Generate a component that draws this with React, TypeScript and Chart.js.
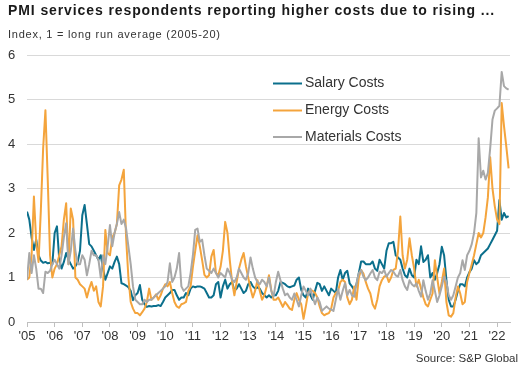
import React, { useEffect, useRef } from "react";
import { Chart, registerables } from "chart.js";

Chart.register(...registerables);

const FONT = '"Liberation Sans", Arial, Helvetica, sans-serif';

const titleText = "PMI services respondents reporting higher costs due to rising ...";
const subtitleText = "Index, 1 = long run average (2005-20)";
const sourceText = "Source: S&P Global";

const startYear = 2005;
const yearTickLabels = ["'05", "'06", "'07", "'08", "'09", "'10", "'11", "'12", "'13", "'14", "'15", "'16", "'17", "'18", "'19", "'20", "'21", "'22"];
const yAxisTicks = [0, 1, 2, 3, 4, 5, 6];

const seriesNames = ["Salary Costs", "Energy Costs", "Materials Costs"];
const seriesColors = ["#0B6F8C", "#F4A43C", "#A8A8A8"];

// Monthly values, Jan 2005 .. Jun 2022 (one row per year)
const salaryCosts = [
  2.48, 2.3, 1.9, 1.62, 1.85, 1.5, 1.38, 1.33, 1.35, 1.32, 1.33, 1.3,
  2.0, 2.15, 1.4, 1.2, 1.35, 1.55, 1.4, 1.3, 1.2, 1.25, 1.35, 1.6,
  2.4, 2.63, 2.2, 1.75, 1.7, 1.6, 1.5, 1.4, 1.5, 1.2, 0.95, 1.1,
  1.25, 1.2, 1.35, 1.47, 1.3, 0.87, 0.85, 0.82, 0.78, 0.7, 0.49, 0.6,
  0.65, 0.83, 0.5, 0.4, 0.34, 0.36, 0.35, 0.36, 0.36, 0.38, 0.36, 0.45,
  0.55, 0.6, 0.65, 0.72, 0.72, 0.6, 0.5, 0.55, 0.55, 0.65, 0.6, 0.75,
  0.8, 0.78, 0.8, 0.8, 0.78, 0.75, 0.65, 0.55, 0.55, 0.6, 0.85, 0.9,
  0.55, 0.8, 0.95, 0.75, 0.85, 0.9, 0.7, 0.75, 0.85, 0.75, 0.65, 0.7,
  0.85, 0.9, 0.8, 0.75, 0.78, 0.75, 0.65, 0.6, 0.55, 0.6, 0.55, 0.6,
  0.6, 0.7, 0.9, 0.88, 0.85, 0.8, 0.78, 0.8, 0.82, 0.95, 1.0, 0.72,
  0.6, 0.55, 0.75, 0.6, 0.5, 0.7, 0.88, 0.85, 0.7, 0.8, 0.7, 0.6,
  0.75, 0.7, 0.65, 1.0, 1.17, 0.95, 1.1, 1.15, 0.87, 0.8, 0.72, 0.85,
  1.1, 1.36, 1.36, 1.3, 1.3, 1.3, 1.36, 1.2, 1.15, 1.4, 1.3, 1.2,
  1.6, 1.77, 1.77, 1.8, 1.5, 1.45, 1.4, 1.2, 1.05, 1.0, 1.2, 1.05,
  1.0, 1.4, 1.3, 1.7, 1.35, 1.4, 1.5, 1.0, 1.1, 0.95, 1.1, 1.3,
  1.69, 1.5, 0.95, 0.5, 0.35, 0.35, 0.5, 0.7, 0.85, 0.85, 0.8, 1.0,
  1.12, 1.2, 1.39, 1.3, 1.35, 1.5, 1.55, 1.6, 1.65, 1.75, 1.85, 1.95,
  2.05, 2.74, 2.3, 2.45, 2.35, 2.38,
];

const energyCosts = [
  0.95, 1.0, 1.5, 2.82, 1.8, 1.35, 2.5, 3.9, 4.76, 3.2, 1.5, 1.0,
  1.2, 1.3, 1.5, 1.7, 2.3, 2.67, 1.3, 2.55, 2.3, 1.0, 0.95, 0.85,
  0.8, 0.75, 0.55, 0.75, 0.9, 0.7, 0.8, 0.45, 0.35, 0.8, 2.07, 1.55,
  1.5, 1.9, 2.0, 2.2, 3.07, 3.2, 3.42, 1.9, 1.0, 0.45, 0.3, 0.2,
  0.2, 0.15, 0.22, 0.3, 0.45, 0.75, 0.5, 0.55, 0.62, 0.5, 0.6, 0.75,
  0.85, 0.8, 0.9, 0.65, 0.45, 0.35, 0.32, 0.4, 0.42, 0.45, 0.7, 0.8,
  1.24, 1.6, 1.95, 1.7, 1.39, 1.06, 1.0, 1.05, 1.47, 1.62, 1.1, 1.05,
  1.24, 1.6, 2.25, 2.0, 1.39, 0.9, 0.6, 0.9, 1.2, 1.4, 1.55, 1.25,
  1.0, 0.75, 0.55, 0.7, 0.94, 0.7, 0.5, 0.6, 0.8, 1.05, 0.72, 0.5,
  0.5, 0.55, 0.45, 0.34, 0.45, 0.38, 0.3, 0.27, 0.5, 0.65, 0.5, 0.4,
  0.07, 0.35, 0.65, 0.72, 0.7, 0.65, 0.55, 0.35, 0.2, 0.15, 0.18, 0.2,
  0.3, 0.55, 0.65, 0.7, 0.9, 0.95, 0.9, 0.55, 0.4, 0.5, 0.8, 0.5,
  1.0, 1.17, 1.09, 0.9, 0.75, 0.64, 0.4, 0.3, 0.5, 0.8, 0.94, 1.02,
  1.05, 0.9, 1.0, 1.17, 1.2, 1.6, 2.37, 1.5, 1.2, 1.4, 1.88, 1.5,
  1.2, 0.8, 0.95, 0.75, 0.55, 0.4, 0.35, 0.5, 0.64, 1.39, 1.0, 0.64,
  0.9, 1.2, 0.45, 0.15, 0.12, 0.2, 0.55, 0.8, 0.64, 0.4, 0.45, 0.9,
  1.1, 1.3, 1.5, 1.75, 2.0, 1.9, 2.0, 2.35, 2.8, 3.7, 3.0, 2.6,
  2.3, 2.2, 4.92, 4.4, 3.94, 3.45,
];

const materialsCosts = [
  0.95, 1.55, 1.1, 1.5, 1.2, 0.75, 0.75, 0.65, 1.13, 1.1, 1.15, 1.3,
  1.4, 1.3, 1.2, 1.5, 1.9, 2.22, 1.3, 1.6, 2.1, 1.6, 1.3, 1.3,
  1.5, 1.4, 1.05, 1.3, 1.6, 1.5, 1.5, 1.4, 1.0, 1.5, 1.3, 1.7,
  2.18, 1.7, 2.0, 2.2, 2.47, 2.2, 2.3, 2.1, 1.7, 1.3, 0.8, 0.5,
  0.45, 0.4, 0.4, 0.5, 0.45, 0.5, 0.5, 0.55, 0.6, 0.65, 0.7, 0.75,
  0.8, 0.9, 1.32, 0.9, 1.0, 1.2, 1.55, 0.8, 0.7, 0.75, 0.8, 1.1,
  1.5, 2.07, 2.1, 1.8, 1.85, 1.5, 1.2, 1.15, 1.1, 1.2, 1.1, 1.0,
  1.1, 1.05, 1.0, 1.2, 1.1, 0.95, 0.9, 1.0, 1.2, 1.1, 1.0, 0.95,
  1.1, 1.45, 1.2, 1.0, 0.9, 0.85, 0.95, 0.9, 0.8, 1.0, 0.7, 0.57,
  0.9, 1.13, 0.94, 0.75, 0.6, 0.64, 0.55, 0.5, 0.64, 0.5, 0.35, 0.6,
  0.8, 0.7, 0.6, 0.75, 0.55, 0.4, 0.55, 0.45, 0.25, 0.3, 0.35, 0.3,
  0.28, 0.25, 0.5, 0.74, 0.5, 0.7, 0.87, 0.6, 0.72, 0.6, 0.57, 0.87,
  1.1, 1.17, 1.02, 0.94, 1.0, 1.09, 1.17, 1.0, 0.94, 1.13, 1.1, 1.17,
  1.02, 1.1, 1.17, 1.13, 1.05, 1.02, 1.17, 0.94, 0.8, 0.72, 0.94, 0.85,
  0.8, 0.87, 0.7, 0.57, 0.94, 0.7, 0.5, 0.64, 0.94, 0.7, 0.45, 0.6,
  0.8, 1.02, 0.9, 0.6, 0.5, 0.6, 0.8, 1.0, 1.1, 1.39, 1.17, 1.5,
  1.6, 1.75, 2.0, 2.45, 4.13, 3.25, 3.4, 3.2, 3.35, 3.9, 4.55, 4.75,
  4.8, 4.86, 5.62, 5.3, 5.25, 5.22,
];

const monthLabels = salaryCosts.map(
  (_, i) => `${startYear + Math.floor(i / 12)}-${String((i % 12) + 1).padStart(2, "0")}`
);

const seriesValues = [salaryCosts, energyCosts, materialsCosts];

const overlayPlugin = {
  id: "overlayText",
  afterDraw(chart: any) {
    const ctx = chart.ctx as any;
    const area = chart.chartArea;
    ctx.save();
    ctx.textAlign = "left";
    ctx.textBaseline = "alphabetic";
    // title
    ctx.fillStyle = "#1a1a1a";
    ctx.font = `bold 14px ${FONT}`;
    ctx.letterSpacing = "0.9px";
    ctx.fillText(titleText, 8, 15);
    // subtitle
    ctx.fillStyle = "#333333";
    ctx.font = `11px ${FONT}`;
    ctx.letterSpacing = "0.75px";
    ctx.fillText(subtitleText, 8, 38);
    ctx.letterSpacing = "0px";
    // legend
    const rows = [83.5, 110.5, 137];
    seriesNames.forEach((name, k) => {
      ctx.strokeStyle = seriesColors[k];
      ctx.lineWidth = 2;
      ctx.beginPath();
      ctx.moveTo(273, rows[k]);
      ctx.lineTo(302, rows[k]);
      ctx.stroke();
      ctx.fillStyle = "#333333";
      ctx.font = `14px ${FONT}`;
      ctx.textBaseline = "middle";
      ctx.textAlign = "left";
      ctx.fillText(name, 305, rows[k]);
    });
    // source
    ctx.font = `11.5px ${FONT}`;
    ctx.fillStyle = "#333333";
    ctx.textAlign = "right";
    ctx.textBaseline = "middle";
    ctx.fillText(sourceText, area.right + 8, 359);
    ctx.restore();
  },
};

export default function App() {
  const canvasRef = useRef<HTMLCanvasElement | null>(null);

  useEffect(() => {
    if (!canvasRef.current) return;
    const chart = new Chart(canvasRef.current, {
      type: "line",
      data: {
        labels: monthLabels,
        datasets: seriesNames.map((name, k) => ({
          label: name,
          data: seriesValues[k].map((v, i) => ({ x: i, y: v })),
          borderColor: seriesColors[k],
          backgroundColor: seriesColors[k],
          borderWidth: 2,
          pointRadius: 0,
          tension: 0,
          fill: false,
          borderJoinStyle: "round" as const,
          order: 3 - k,
        })),
      },
      options: {
        responsive: false,
        animation: false,
        layout: { padding: { left: 8, right: 11, top: 55, bottom: 20 } },
        plugins: {
          legend: { display: false },
          tooltip: { enabled: false },
          title: { display: false },
          subtitle: { display: false },
        },
        scales: {
          x: {
            type: "linear",
            min: 0,
            max: 209.6,
            afterFit: (scale: any) => {
              scale.height = 31;
            },
            afterBuildTicks: (scale: any) => {
              scale.ticks = yearTickLabels.map((_, k) => ({ value: k * 12 }));
            },
            ticks: {
              autoSkip: false,
              maxRotation: 0,
              padding: 2,
              color: "#333333",
              font: { family: FONT, size: 13 },
              callback: (value: any) => yearTickLabels[Math.round(Number(value) / 12)] ?? "",
            },
            grid: {
              display: true,
              drawOnChartArea: false,
              drawTicks: true,
              tickLength: 5,
              color: "#BFBFBF",
            },
            border: { display: true, color: "#BFBFBF", width: 1 },
          },
          y: {
            min: 0,
            max: 6,
            afterFit: (scale: any) => {
              scale.width = 19;
            },
            afterBuildTicks: (scale: any) => {
              scale.ticks = yAxisTicks.map((v) => ({ value: v }));
            },
            ticks: {
              padding: 0,
              crossAlign: "far",
              color: "#333333",
              font: { family: FONT, size: 13 },
            },
            grid: { color: "#D9D9D9", drawTicks: false, lineWidth: 1 },
            border: { display: false },
          },
        },
      },
      plugins: [overlayPlugin],
    });
    return () => chart.destroy();
  }, []);

  return (
    <div style={{ position: "fixed", left: 0, top: 0, width: 521, height: 373, background: "#ffffff" }}>
      <canvas ref={canvasRef} width={521} height={373} style={{ display: "block" }} />
    </div>
  );
}
